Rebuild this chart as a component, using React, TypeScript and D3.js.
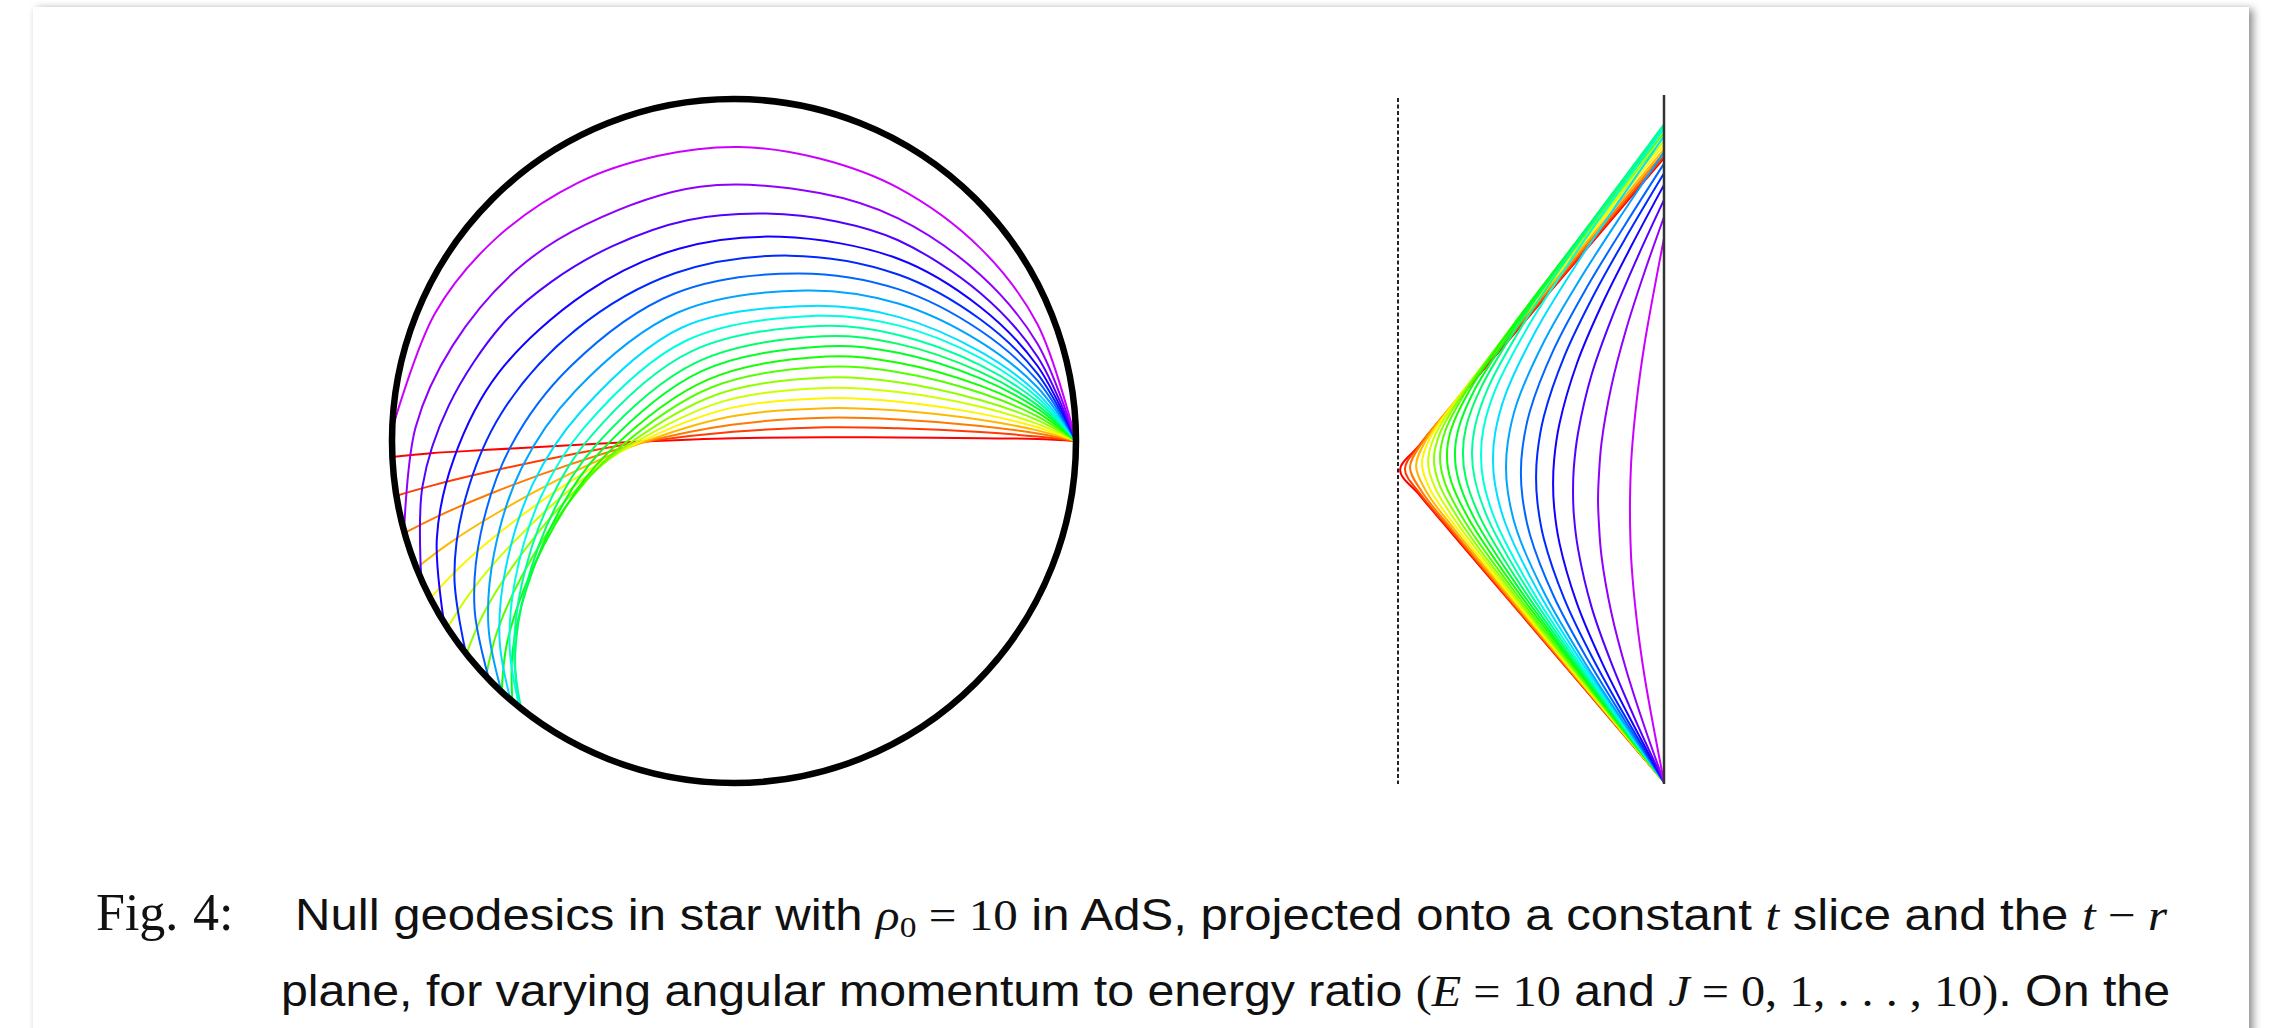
import React from 'react';
import * as d3 from 'd3';

const W = 2280;
const H = 1028;

// E = 10, one ray per J
const J_VALUES = [0, 0.5, 1, 1.5, 2, 2.5, 3, 3.5, 4, 4.5, 5, 5.5, 6, 6.5, 7, 7.5, 8, 8.5, 9, 9.5, 10];

// constant t slice: boundary angle (deg) where each ray lands again
const PHI_END = [182.7, 189.2, 195.6, 201.8, 207.4, 213.1, 218.5, 223.5, 227.2, 229.6, 231.0, 231.5, 231.2, 229.2, 227.2, 224.3, 218.4, 212.0, 203.9, 195.3, 178.0];

// closest approach in the disk (boundary = 1)
const R_MIN_DISK = [0.008, 0.027, 0.048, 0.072, 0.096, 0.12, 0.145, 0.17, 0.195, 0.225, 0.255, 0.29, 0.325, 0.365, 0.41, 0.465, 0.52, 0.585, 0.66, 0.75, 0.86];

// first half of each ray, unit disk coords, source at (1, 0)
const DISK_HALF = [
  [[0.887, 0.006], [0.72, 0.008], [0.48, 0.010], [0.27, 0.011]],
  [[0.887, 0.013], [0.72, 0.026], [0.48, 0.037], [0.27, 0.040]],
  [[0.887, 0.022], [0.72, 0.044], [0.48, 0.063], [0.27, 0.068]],
  [[0.887, 0.031], [0.72, 0.062], [0.48, 0.089], [0.27, 0.096]],
  [[0.887, 0.040], [0.72, 0.080], [0.48, 0.115], [0.27, 0.125]],
  [[0.887, 0.050], [0.72, 0.100], [0.48, 0.143], [0.27, 0.155]],
  [[0.887, 0.061], [0.72, 0.120], [0.48, 0.172], [0.27, 0.186]],
  [[0.887, 0.072], [0.72, 0.141], [0.48, 0.201], [0.27, 0.217]],
  [[0.887, 0.084], [0.72, 0.162], [0.48, 0.229], [0.27, 0.247]],
  [[0.887, 0.095], [0.72, 0.183], [0.48, 0.258], [0.27, 0.277]],
  [[0.887, 0.105], [0.72, 0.202], [0.48, 0.284], [0.26, 0.306]],
  [[0.887, 0.116], [0.72, 0.222], [0.48, 0.310], [0.25, 0.336]],
  [[0.887, 0.128], [0.72, 0.243], [0.48, 0.338], [0.243, 0.366]],
  [[0.887, 0.140], [0.72, 0.261], [0.48, 0.363], [0.229, 0.395]],
  [[0.887, 0.157], [0.72, 0.290], [0.48, 0.402], [0.209, 0.440]],
  [[0.887, 0.177], [0.72, 0.323], [0.48, 0.444], [0.189, 0.490]],
  [[0.887, 0.197], [0.72, 0.356], [0.48, 0.487], [0.162, 0.542]],
  [[0.887, 0.220], [0.72, 0.392], [0.48, 0.533], [0.135, 0.597]],
  [[0.887, 0.247], [0.72, 0.433], [0.48, 0.587], [0.30, 0.642], [0.094, 0.665]],
  [[0.887, 0.285], [0.72, 0.486], [0.48, 0.651], [0.25, 0.725]],
  [[0.887, 0.342], [0.72, 0.564], [0.48, 0.740], [0.25, 0.826]],
];

// t-r plane: turning radius and return time (fraction of plotted t range)
const R_MIN = [0.008, 0.026, 0.045, 0.068, 0.090, 0.113, 0.135, 0.158, 0.184, 0.214, 0.244, 0.278, 0.312, 0.357, 0.406, 0.462, 0.519, 0.583, 0.658, 0.752, 0.872];
const T_RETURN = [0.912, 0.915, 0.920, 0.925, 0.931, 0.937, 0.943, 0.949, 0.955, 0.958, 0.961, 0.961, 0.956, 0.944, 0.921, 0.904, 0.890, 0.873, 0.851, 0.826, 0.795];

// r on the way in, at these fractions of the time to the turning point
const PROFILE_S = [0.2, 0.4, 0.6, 0.8, 0.92];
const R_PROFILE = [
  [0.800, 0.600, 0.400, 0.200, 0.081],
  [0.800, 0.601, 0.401, 0.202, 0.084],
  [0.801, 0.601, 0.402, 0.205, 0.092],
  [0.801, 0.603, 0.405, 0.211, 0.105],
  [0.802, 0.605, 0.409, 0.219, 0.120],
  [0.803, 0.607, 0.414, 0.229, 0.138],
  [0.805, 0.610, 0.419, 0.240, 0.157],
  [0.806, 0.614, 0.426, 0.253, 0.177],
  [0.809, 0.620, 0.435, 0.270, 0.200],
  [0.812, 0.626, 0.447, 0.290, 0.228],
  [0.815, 0.633, 0.460, 0.312, 0.256],
  [0.819, 0.642, 0.476, 0.339, 0.289],
  [0.824, 0.653, 0.494, 0.366, 0.321],
  [0.832, 0.668, 0.520, 0.404, 0.365],
  [0.840, 0.687, 0.550, 0.446, 0.413],
  [0.852, 0.710, 0.586, 0.496, 0.468],
  [0.864, 0.736, 0.626, 0.548, 0.524],
  [0.880, 0.767, 0.672, 0.607, 0.587],
  [0.899, 0.806, 0.728, 0.677, 0.661],
  [0.925, 0.857, 0.802, 0.765, 0.755],
  [0.961, 0.925, 0.897, 0.878, 0.873],
];

// layout
const DISK = { cx: 734, cy: 441, r: 342 };
const TR = { x0: 1398, x1: 1664, yBottom: 782, yTop: 98 };

const color = (k: number) => d3.hsl((288 * k) / (J_VALUES.length - 1), 1, 0.5).formatHex();

const xDisk = d3.scaleLinear().domain([-1, 1]).range([DISK.cx - DISK.r, DISK.cx + DISK.r]);
const yDisk = d3.scaleLinear().domain([-1, 1]).range([DISK.cy + DISK.r, DISK.cy - DISK.r]);
const xR = d3.scaleLinear().domain([0, 1]).range([TR.x0, TR.x1]);
const yT = d3.scaleLinear().domain([0, 1]).range([TR.yBottom, TR.yTop]);

const diskLine = d3.line<number[]>()
  .x(d => xDisk(d[0]))
  .y(d => yDisk(d[1]))
  .curve(d3.curveCatmullRom.alpha(0.5));

const trLine = d3.line<number[]>()
  .x(d => xR(d[0]))
  .y(d => yT(d[1]))
  .curve(d3.curveCatmullRom.alpha(0.5));

// orbit is symmetric about the direction of closest approach
function diskPath(k: number) {
  const a = (PHI_END[k] / 2) * Math.PI / 180;
  const c2 = Math.cos(2 * a), s2 = Math.sin(2 * a);
  const mirror = ([x, y]: number[]) => [x * c2 + y * s2, x * s2 - y * c2];
  const half = [[1, 0], ...DISK_HALF[k]];
  const turn = [R_MIN_DISK[k] * Math.cos(a), R_MIN_DISK[k] * Math.sin(a)];
  return diskLine([...half, turn, ...half.slice().reverse().map(mirror)]);
}

function trPath(k: number) {
  const tt = T_RETURN[k];
  const mid = tt / 2;
  const low = [[1, 0], ...PROFILE_S.map((s, i) => [R_PROFILE[k][i], s * mid])];
  const high = low.slice().reverse().map(([r, t]) => [r, tt - t]);
  return trLine([...low, [R_MIN[k], mid], ...high]);
}

const SANS = "'Liberation Sans', Arimo, sans-serif";
const SERIF = "'Liberation Serif', 'DejaVu Serif', serif";

export default function App() {
  const ks = J_VALUES.map((_, k) => k);
  return (
    <svg width={W} height={H} style={{ position: 'absolute', left: 0, top: 0, display: 'block', background: '#fff' }}>
      <defs>
        <filter id="shadow" x="-5%" y="-5%" width="110%" height="110%">
          <feGaussianBlur stdDeviation="4" />
        </filter>
      </defs>

      {/* page card */}
      <rect x={37} y={9} width={2216} height={1100} fill="#000" opacity={0.45} filter="url(#shadow)" />
      <rect x={33} y={7} width={2216} height={1100} fill="#fff" />

      {/* constant t slice */}
      <g fill="none" strokeWidth={2} strokeLinejoin="round" strokeLinecap="round">
        {ks.map(k => <path key={k} d={diskPath(k) || ''} stroke={color(k)} />)}
      </g>
      <circle cx={DISK.cx} cy={DISK.cy} r={DISK.r} fill="none" stroke="#000" strokeWidth={6.5} />

      {/* t - r plane */}
      <line x1={TR.x0} x2={TR.x0} y1={TR.yTop} y2={TR.yBottom + 2} stroke="#222" strokeWidth={2} strokeDasharray="4 2.5" />
      <g fill="none" strokeWidth={2} strokeLinejoin="round" strokeLinecap="round">
        {ks.map(k => <path key={k} d={trPath(k) || ''} stroke={color(k)} />)}
      </g>
      <line x1={TR.x1} x2={TR.x1} y1={TR.yTop - 3} y2={TR.yBottom + 2} stroke="#333" strokeWidth={2.5} />

      {/* caption */}
      <text y={930} fontFamily={SERIF} fontSize={52} fill="#111">
        <tspan x={96}>Fig.</tspan>
        <tspan x={193}>4:</tspan>
      </text>
      <text x={295} y={930} fontFamily={SANS} fontSize={44} fill="#111" textLength={1872} lengthAdjust="spacingAndGlyphs">
        {'Null geodesics in star with '}
        <tspan fontFamily={SERIF} fontStyle="italic">ρ</tspan>
        <tspan fontFamily={SERIF} fontSize={30} dy={7}>0</tspan>
        <tspan fontFamily={SERIF} dy={-7}>{' = 10'}</tspan>
        {' in AdS, projected onto a constant '}
        <tspan fontFamily={SERIF} fontStyle="italic">t</tspan>
        {' slice and the '}
        <tspan fontFamily={SERIF} fontStyle="italic">t</tspan>
        <tspan fontFamily={SERIF}>{' − '}</tspan>
        <tspan fontFamily={SERIF} fontStyle="italic">r</tspan>
      </text>
      <text x={281} y={1006} fontFamily={SANS} fontSize={44} fill="#111" textLength={1889} lengthAdjust="spacingAndGlyphs">
        {'plane, for varying angular momentum to energy ratio '}
        <tspan fontFamily={SERIF}>(</tspan>
        <tspan fontFamily={SERIF} fontStyle="italic">E</tspan>
        <tspan fontFamily={SERIF}>{' = 10'}</tspan>
        {' and '}
        <tspan fontFamily={SERIF} fontStyle="italic">J</tspan>
        <tspan fontFamily={SERIF}>{' = 0, 1, . . . , 10)'}</tspan>
        {'. On the'}
      </text>
    </svg>
  );
}
